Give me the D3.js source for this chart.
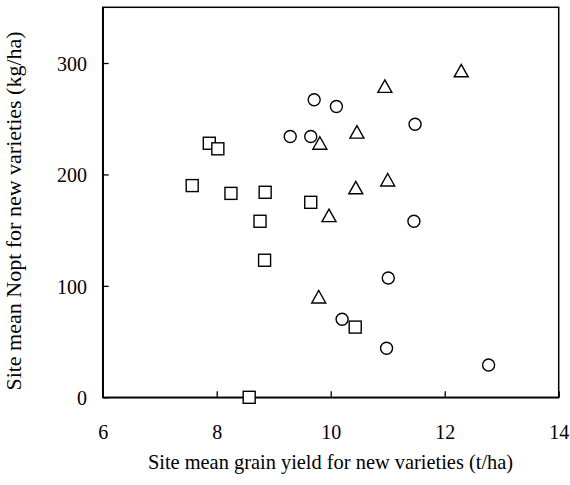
<!DOCTYPE html>
<html>
<head>
<meta charset="utf-8">
<script src="https://cdn.jsdelivr.net/npm/d3@7"></script>
<style>
  html, body { margin: 0; padding: 0; background: #fff; }
  svg { display: block; }
</style>
</head>
<body>
<div id="chart"></div>
<script>
// Data (site mean grain yield t/ha, site mean Nopt kg/ha)
const squareX = [7.57, 7.87, 8.02, 8.25, 8.85, 9.65, 8.76, 8.84, 10.43, 8.57];
const squareY = [190, 228, 223, 183, 184, 175, 158, 123, 63, 0];
const circleX = [9.71, 10.10, 9.29, 9.65, 11.48, 11.46, 11.01, 10.20, 10.98, 12.77];
const circleY = [267, 261, 234, 234, 245, 158, 107, 70, 44, 29];
const triangleX = [12.29, 10.95, 10.46, 9.81, 11.00, 10.44, 9.97, 9.79];
const triangleY = [293, 279, 238, 228, 195, 188, 163, 90];
const xTicks = [6, 8, 10, 12, 14];
const yTicks = [0, 100, 200, 300];
const xTitle = "Site mean grain yield for new varieties (t/ha)";
const yTitle = "Site mean Nopt for new varieties (kg/ha)";

const FONT = '"Liberation Serif", "Times New Roman", serif';
const W = 570, H = 485;
const margin = { left: 102.7, top: 7.3, right: W - 558.7, bottom: H - 397.3 };
const iw = W - margin.left - margin.right;
const ih = H - margin.top - margin.bottom;

const svg = d3.select("#chart").append("svg").attr("width", W).attr("height", H)
  .style("font-family", FONT);
const g = svg.append("g").attr("transform", `translate(${margin.left},${margin.top})`);

const x = d3.scaleLinear().domain([6, 14]).range([0, iw]);
const y = d3.scaleLinear().domain([0, 350]).range([ih, 0]);

// frame
g.append("rect").attr("x", 0).attr("y", 0).attr("width", iw).attr("height", ih)
  .attr("fill", "none").attr("stroke", "#000").attr("stroke-width", 1.5);

// axes with inward ticks
const xAxis = d3.axisBottom(x).tickValues(xTicks).tickSizeInner(-6).tickSizeOuter(0).tickFormat(d3.format("d"));
const yAxis = d3.axisLeft(y).tickValues(yTicks).tickSizeInner(-6).tickSizeOuter(0).tickFormat(d3.format("d"));

const gx = g.append("g").attr("transform", `translate(0,${ih})`).call(xAxis);
const gy = g.append("g").call(yAxis);
[gx, gy].forEach(a => {
  a.attr("font-family", null).attr("font-size", null);
  a.select(".domain").attr("stroke", "#000").attr("stroke-width", 1.5);
  a.selectAll(".tick line").attr("stroke", "#000").attr("stroke-width", 1.3);
  a.selectAll(".tick text").style("font-family", FONT).style("font-size", "20px").attr("fill", "#000");
});
gx.selectAll(".tick text").attr("y", 41.7).attr("dy", 0);
gy.selectAll(".tick text").attr("x", -15.7).attr("dy", "0.36em");

// titles
svg.append("text").attr("x", 330.5).attr("y", 468.5).attr("text-anchor", "middle")
  .style("font-family", FONT).style("font-size", "20.4px").attr("fill", "#000").text(xTitle);
svg.append("text").attr("transform", `translate(20.6,211) rotate(-90)`).attr("text-anchor", "middle")
  .style("font-family", FONT).style("font-size", "22px").attr("fill", "#000").text(yTitle);

const mk = { fill: "#fff", stroke: "#000", sw: 1.4 };

// squares
const squares = squareX.map((v, i) => ({ x: v, y: squareY[i] }));
g.selectAll(".sq").data(squares).enter().append("rect")
  .attr("x", d => x(d.x) - 6).attr("y", d => y(d.y) - 6)
  .attr("width", 12).attr("height", 12)
  .attr("fill", mk.fill).attr("stroke", mk.stroke).attr("stroke-width", mk.sw);

// circles
const circles = circleX.map((v, i) => ({ x: v, y: circleY[i] }));
g.selectAll(".ci").data(circles).enter().append("circle")
  .attr("cx", d => x(d.x)).attr("cy", d => y(d.y)).attr("r", 6)
  .attr("fill", mk.fill).attr("stroke", mk.stroke).attr("stroke-width", mk.sw);

// triangles
const tris = triangleX.map((v, i) => ({ x: v, y: triangleY[i] }));
g.selectAll(".tr").data(tris).enter().append("path")
  .attr("transform", d => `translate(${x(d.x)},${y(d.y)})`)
  .attr("d", "M0,-6.5L7,6L-7,6Z")
  .attr("fill", mk.fill).attr("stroke", mk.stroke).attr("stroke-width", mk.sw).attr("stroke-linejoin", "miter");
</script>
</body>
</html>
